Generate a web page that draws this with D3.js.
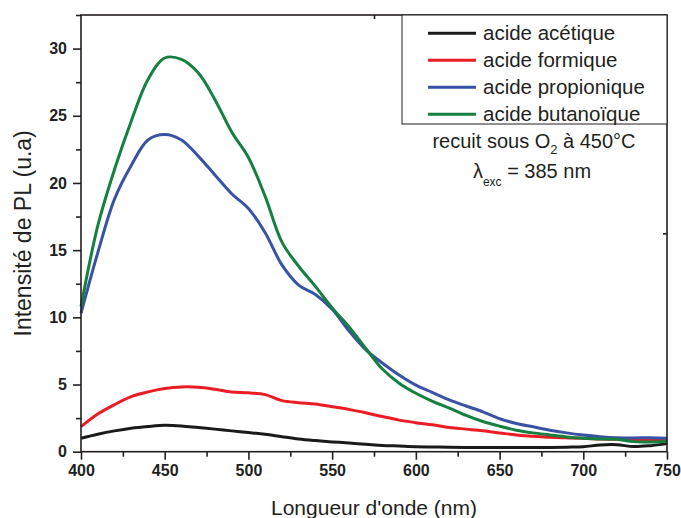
<!DOCTYPE html>
<html><head><meta charset="utf-8">
<script src="https://cdn.jsdelivr.net/npm/d3@7"></script>
<style>body{margin:0;background:#fff}svg{display:block}text{font-family:Arial,"Liberation Sans",sans-serif;fill:#231f20}</style>
</head><body><svg id="c" width="681" height="518"></svg>
<script>
const wavelengths = [400,410,420,430,440,450,460,470,480,490,500,510,520,530,540,550,560,570,580,590,600,610,620,630,640,650,660,670,680,690,700,710,720,730,740,750];
const acetique =   [1.0,1.3,1.55,1.75,1.88,1.97,1.92,1.8,1.68,1.55,1.43,1.3,1.12,0.95,0.83,0.73,0.65,0.55,0.47,0.42,0.37,0.35,0.33,0.32,0.32,0.32,0.32,0.32,0.32,0.34,0.37,0.5,0.52,0.38,0.45,0.6];
const formique =   [1.86,2.8,3.5,4.1,4.45,4.7,4.82,4.8,4.65,4.45,4.38,4.25,3.8,3.65,3.55,3.35,3.15,2.9,2.62,2.35,2.16,2.0,1.8,1.68,1.56,1.4,1.24,1.15,1.07,1.03,1.0,0.95,0.92,0.88,0.85,0.84];
const propionique =[10.3,14.8,18.8,21.3,23.2,23.6,23.2,22.0,20.6,19.2,18.1,16.3,13.9,12.4,11.7,10.6,9.0,7.6,6.6,5.7,4.95,4.4,3.85,3.4,2.97,2.45,2.1,1.85,1.6,1.4,1.24,1.12,1.04,1.02,1.04,1.0];
const butanoique = [10.8,16.8,21.0,24.6,27.7,29.3,29.2,28.2,26.2,23.8,21.9,19.0,15.6,13.8,12.3,10.7,9.3,7.7,6.15,5.1,4.35,3.75,3.25,2.7,2.25,1.9,1.6,1.4,1.25,1.1,1.0,0.95,0.92,0.75,0.72,0.75];
const seriesNames = ["acide acétique","acide formique","acide propionique","acide butanoïque"];
const seriesColors = ["#1a1a1a","#ec1c24","#3953a4","#15803f"];
const xTicks = [400,450,500,550,600,650,700,750];
const yTicks = [0,5,10,15,20,25,30];
const topTicks = [575];
const rightTicks = [16.25];

const series = [acetique, formique, propionique, butanoique];
const svg = d3.select("#c");
const L = 81, R = 667, T = 15, B = 451.7;
const x = d3.scaleLinear().domain([400,750]).range([L,R]);
const y = d3.scaleLinear().domain([0,32.5]).range([B,T]);

const line = d3.line().x((d,i)=>x(wavelengths[i])).y(d=>y(d)).curve(d3.curveCatmullRom.alpha(0.5));
const g = svg.append("g");
series.forEach((s,k)=>{
  g.append("path").datum(s).attr("d",line).attr("fill","none")
   .attr("stroke",seriesColors[k]).attr("stroke-width",3).attr("stroke-linejoin","round");
});

// frame
svg.append("rect").attr("x",L).attr("y",T).attr("width",R-L).attr("height",B-T)
  .attr("fill","none").attr("stroke","#231f20").attr("stroke-width",1.6);

// bottom axis
const xMinor = d3.range(400,751,25).filter(v=>!xTicks.includes(v));
const xa = svg.append("g").attr("transform",`translate(0,${B})`)
  .call(d3.axisBottom(x).tickValues(xTicks).tickSizeInner(8).tickSizeOuter(0).tickPadding(5).tickFormat(d3.format("d")));
xa.select(".domain").remove();
xa.selectAll("line").attr("stroke","#231f20").attr("stroke-width",1.6);
xa.selectAll("text").attr("font-size","16px").attr("font-weight","bold").style("font-family","Arial, 'Liberation Sans', sans-serif").attr("fill","#231f20");
svg.append("g").attr("transform",`translate(0,${B})`)
  .call(d3.axisBottom(x).tickValues(xMinor).tickSize(5).tickFormat(""))
  .call(a=>{a.select(".domain").remove();a.selectAll("line").attr("stroke","#231f20").attr("stroke-width",1.6);});

// left axis
const yMinor = d3.range(0,32.6,2.5).filter(v=>!yTicks.includes(v));
const ya = svg.append("g").attr("transform",`translate(${L},0)`)
  .call(d3.axisLeft(y).tickValues(yTicks).tickSizeInner(8).tickSizeOuter(0).tickPadding(6).tickFormat(d3.format("d")));
ya.select(".domain").remove();
ya.selectAll("line").attr("stroke","#231f20").attr("stroke-width",1.6);
ya.selectAll("text").attr("font-size","16px").attr("font-weight","bold").style("font-family","Arial, 'Liberation Sans', sans-serif").attr("fill","#231f20");
svg.append("g").attr("transform",`translate(${L},0)`)
  .call(d3.axisLeft(y).tickValues(yMinor).tickSize(5).tickFormat(""))
  .call(a=>{a.select(".domain").remove();a.selectAll("line").attr("stroke","#231f20").attr("stroke-width",1.6);});

// stray inner ticks on top and right
svg.append("g").attr("transform",`translate(0,${T})`)
  .call(d3.axisBottom(x).tickValues(topTicks).tickSize(4).tickFormat(""))
  .call(a=>{a.select(".domain").remove();a.selectAll("line").attr("stroke","#231f20").attr("stroke-width",1.6);});
svg.append("g").attr("transform",`translate(${R},0)`)
  .call(d3.axisLeft(y).tickValues(rightTicks).tickSize(4).tickFormat(""))
  .call(a=>{a.select(".domain").remove();a.selectAll("line").attr("stroke","#231f20").attr("stroke-width",1.6);});

// axis titles
svg.append("text").attr("x",(L+R)/2).attr("y",515).attr("text-anchor","middle")
  .attr("font-size","21px").text("Longueur d'onde (nm)");
svg.append("text").attr("transform",`translate(31,${(T+B)/2}) rotate(-90)`).attr("text-anchor","middle")
  .attr("font-size","23px").text("Intensité de PL (u.a)");

// legend
const lg = svg.append("g");
lg.append("rect").attr("x",402).attr("y",T).attr("width",R-402).attr("height",124-T)
  .attr("fill","#fff").attr("stroke","#231f20").attr("stroke-width",1);
seriesNames.forEach((n,k)=>{
  const cy = 33.3 + k*27;
  lg.append("line").attr("x1",428).attr("x2",476).attr("y1",cy).attr("y2",cy)
    .attr("stroke",seriesColors[k]).attr("stroke-width",3);
  lg.append("text").attr("x",483).attr("y",cy+7).attr("font-size","20.5px").text(n);
});
// annotations
const a1 = svg.append("text").attr("x",534).attr("y",148).attr("text-anchor","middle").attr("font-size","20px");
a1.append("tspan").text("recuit sous O");
a1.append("tspan").attr("font-size","13px").attr("dy",6).text("2");
a1.append("tspan").attr("dy",-6).text(" à 450°C");
const a2 = svg.append("text").attr("x",532).attr("y",178).attr("text-anchor","middle").attr("font-size","20px");
a2.append("tspan").text("λ");
a2.append("tspan").attr("font-size","12px").attr("dy",8).text("exc");
a2.append("tspan").attr("dy",-8).text(" = 385 nm");
</script></body></html>
